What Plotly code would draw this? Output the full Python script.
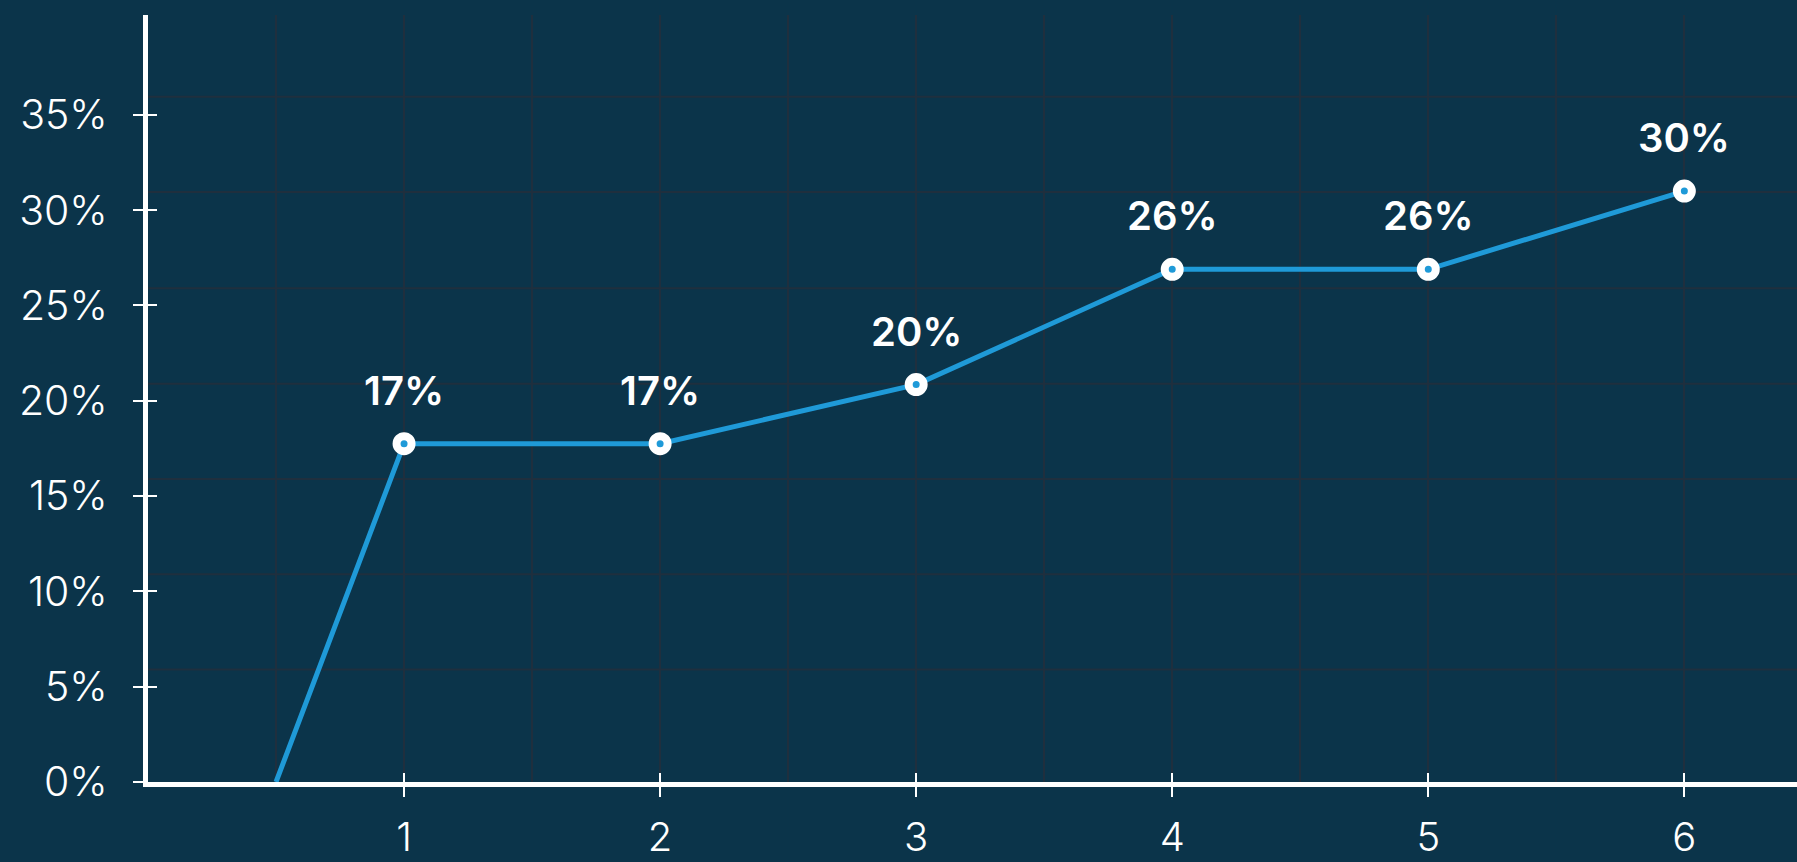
import plotly.graph_objects as go

# data
x_vals = [0.5, 1, 2, 3, 4, 5, 6]
y_vals = [0, 17.75, 17.75, 20.85, 26.9, 26.9, 31.0]
label_x = [1, 2, 3, 4, 5, 6]
label_y = [17.75, 17.75, 20.85, 26.9, 26.9, 31.0]
label_text = ["17%", "17%", "20%", "26%", "26%", "30%"]
x_ticks = [1, 2, 3, 4, 5, 6]
x_ticktext = ["1", "2", "3", "4", "5", "6"]
y_ticks = [0, 5, 10, 15, 20, 25, 30, 35]
y_ticktext = ["0%", "5%", "10%", "15%", "20%", "25%", "30%", "35%"]
h_grid = [5.9, 10.9, 15.9, 20.9, 25.9, 30.95, 35.95]

BG = "#0b344a"
GRID = "#1f2f3e"
LINE = "#1f9ad8"
WHITE = "#ffffff"
FONT = "Inter"

fig = go.Figure()
fig.add_trace(go.Scatter(
    x=x_vals, y=y_vals, mode="lines",
    line=dict(color=LINE, width=5), hoverinfo="skip", showlegend=False,
))
fig.add_trace(go.Scatter(
    x=label_x, y=label_y, mode="markers",
    marker=dict(size=15, color=LINE, line=dict(color=WHITE, width=8)),
    hoverinfo="skip", showlegend=False,
))
# invisible trace to anchor inner-tick axes
fig.add_trace(go.Scatter(x=[None], y=[None], xaxis="x2", yaxis="y2",
                         showlegend=False, hoverinfo="skip"))

for xv, yv, t in zip(label_x, label_y, label_text):
    fig.add_annotation(x=xv, y=yv, text=t, showarrow=False, yanchor="bottom",
                       yshift=27, font=dict(family=FONT, size=40, color=WHITE, weight=600))

for g in h_grid:
    fig.add_shape(type="line", xref="x", yref="y", x0=0, x1=7, y0=g, y1=g,
                  line=dict(color=GRID, width=2), layer="below")

XR = [0, 6.44]
YR = [0, 40.24]

fig.update_layout(
    width=1797, height=862,
    margin=dict(l=148, r=0, t=15, b=80, autoexpand=False),
    paper_bgcolor=BG, plot_bgcolor=BG,
    xaxis=dict(range=XR, tickvals=x_ticks, ticktext=x_ticktext, showgrid=True,
               gridcolor=GRID, gridwidth=2, zeroline=False, automargin=False,
               showline=True, linecolor=WHITE, linewidth=5,
               ticks="outside", ticklen=10, tickwidth=2, tickcolor=WHITE,
               ticklabelstandoff=6,
               tickfont=dict(family=FONT, size=40, color=WHITE, weight=300),
               minor=dict(dtick=0.5, tick0=0, showgrid=True, gridcolor=GRID, gridwidth=2, ticks=""),
               fixedrange=True),
    yaxis=dict(range=YR, tickvals=y_ticks, ticktext=y_ticktext, showgrid=False,
               zeroline=False, showline=True, linecolor=WHITE, linewidth=5,
               automargin=False,
               ticks="outside", ticklen=10, tickwidth=2, tickcolor=WHITE,
               ticklabelstandoff=17,
               tickfont=dict(family=FONT, size=41, color=WHITE, weight=300),
               fixedrange=True),
    xaxis2=dict(range=XR, overlaying="x", anchor="y2", tickvals=x_ticks,
                showticklabels=False, showgrid=False, zeroline=False, showline=False,
                ticks="inside", ticklen=9, tickwidth=2, tickcolor=WHITE, fixedrange=True),
    yaxis2=dict(range=YR, overlaying="y", anchor="x2", tickvals=y_ticks,
                showticklabels=False, showgrid=False, zeroline=False, showline=False,
                ticks="inside", ticklen=9, tickwidth=2, tickcolor=WHITE, fixedrange=True),
    showlegend=False,
)

fig.write_html("out.html", config={"displayModeBar": False})
